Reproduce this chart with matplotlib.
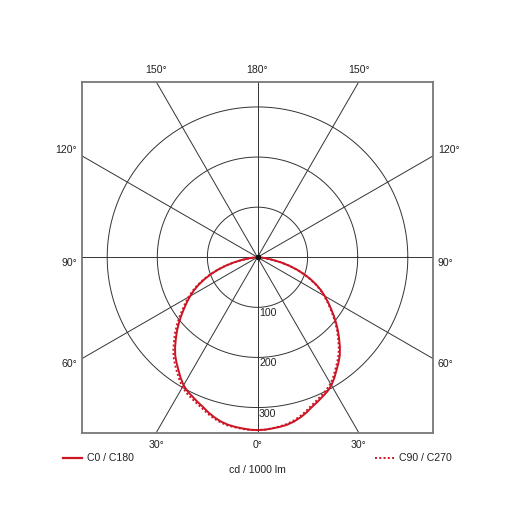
import numpy as np
import matplotlib
matplotlib.use("Agg")
import matplotlib.pyplot as plt

plt.rcParams['font.family'] = ['Liberation Sans', 'DejaVu Sans']

# gamma angles (deg) and intensities (cd / 1000 lm)
gamma = [0, 2.5, 5, 7.5, 10, 12.5, 15, 17.5, 20, 22.5, 25, 27.5, 30, 32.5, 35, 37.5, 40, 42.5, 45,
         47.5, 50, 52.5, 55, 57.5, 60, 62.5, 65, 67.5, 70, 72.5, 75, 77.5, 80, 82.5, 85, 87.5, 90]
c0_c180 = [345, 344.5, 343, 341.5, 339.5, 336, 331, 325, 318, 312.5, 307, 302, 295, 285.5, 275, 265.5,
           255.5, 243.5, 230.5, 218, 205, 192, 179, 167, 155, 143, 129.5, 114.5, 99, 83, 66, 49, 32,
           18, 8, 2, 0]
c90 = [345, 344.5, 342.5, 340.5, 338, 334, 328.5, 322, 315, 309, 303.5, 298, 291.5, 282, 271.5, 262,
       252, 240, 227.5, 215, 202.5, 189.5, 177, 165, 153, 141.5, 128, 113.5, 98, 82, 65.5, 48.5, 31.5,
       18, 8, 2, 0]
c270 = [345, 345, 344, 342.5, 341, 338, 333.5, 328, 321.5, 316, 311, 306, 299.5, 290, 280, 270.5,
        260.5, 248.5, 235.5, 223, 210, 196.5, 183, 171, 159, 146.5, 132.5, 117, 101, 84.5, 67, 50,
        33, 18.5, 8, 2, 0]

ring_values = [100, 200, 300]
spoke_angles = [0, 30, 60, 90, 120, 150, 180]
side_labels = [(120, "120°"), (90, "90°"), (60, "60°")]
top_labels = [(150, "150°"), (180, "180°")]
bottom_labels = [(30, "30°"), (0, "0°")]

red = "#cc1424"
grid = "#333333"
txt = "#222222"
fs = 7.6
lim = 350

fig = plt.figure(figsize=(5.15, 5.15), dpi=100)
ax = fig.add_axes([0.159, 0.16, 0.682, 0.681])
ax.set_xlim(-lim, lim)
ax.set_ylim(-lim, lim)
ax.set_aspect("equal")
ax.set_xticks([])
ax.set_yticks([])
for s in ax.spines.values():
    s.set_color("#777777")
    s.set_linewidth(1.3)

# rings
t = np.linspace(0, 2 * np.pi, 400)
for r in ring_values:
    ax.plot(r * np.cos(t), r * np.sin(t), color=grid, lw=0.7, zorder=1)
    ax.text(3, -r - 12, str(r), fontsize=fs, ha="left", va="center", color=txt)

# spokes
for a in spoke_angles:
    g = np.radians(a)
    sides = (1,) if a in (0, 180) else (1, -1)
    for sgn in sides:
        ax.plot([0, sgn * 1000 * np.sin(g)], [0, -1000 * np.cos(g)], color=grid, lw=0.7, zorder=1)
ax.plot(0, 0, "o", color="#111111", ms=3, zorder=4)

# curves
g = np.radians(gamma)
r0 = np.array(c0_c180)
ax.plot(np.concatenate([-(r0 * np.sin(g))[::-1], r0 * np.sin(g)]),
        np.concatenate([-(r0 * np.cos(g))[::-1], -r0 * np.cos(g)]),
        color=red, lw=1.4, zorder=3)
r90 = np.array(c90)
r270 = np.array(c270)
ax.plot(np.concatenate([-(r270 * np.sin(g))[::-1], r90 * np.sin(g)]),
        np.concatenate([-(r270 * np.cos(g))[::-1], -r90 * np.cos(g)]),
        color=red, lw=1.4, ls=(0, (1, 1.2)), zorder=3)

# angle labels outside the frame
for a, lab in side_labels:
    y = -lim * np.cos(np.radians(a)) / np.sin(np.radians(a))
    y = y + 12 * np.sign(y)
    ax.text(-lim - 10, y, lab, fontsize=fs, ha="right", va="center", color=txt, clip_on=False)
    ax.text(lim + 10, y, lab, fontsize=fs, ha="left", va="center", color=txt, clip_on=False)
for a, lab in top_labels:
    x = lim * np.tan(np.radians(180 - a))
    ax.text(x, lim + 24, lab, fontsize=fs, ha="center", va="center", color=txt, clip_on=False)
    if x:
        ax.text(-x, lim + 24, lab, fontsize=fs, ha="center", va="center", color=txt, clip_on=False)
for a, lab in bottom_labels:
    x = lim * np.tan(np.radians(a))
    ax.text(x, -lim - 24, lab, fontsize=fs, ha="center", va="center", color=txt, clip_on=False)
    if x:
        ax.text(-x, -lim - 24, lab, fontsize=fs, ha="center", va="center", color=txt, clip_on=False)

# legend and unit
ly = 1 - 457.7 / 515
fig.lines.append(plt.Line2D([63 / 515, 82 / 515], [ly, ly], color=red, lw=1.6, transform=fig.transFigure))
fig.text(87 / 515, ly, "C0 / C180", fontsize=fs, ha="left", va="center", color=txt)
fig.lines.append(plt.Line2D([375 / 515, 394 / 515], [ly, ly], color=red, lw=1.4,
                            ls=(0, (1, 1.2)), transform=fig.transFigure))
fig.text(399 / 515, ly, "C90 / C270", fontsize=fs, ha="left", va="center", color=txt)
fig.text(0.5, 1 - 470 / 515, "cd / 1000 lm", fontsize=fs, ha="center", va="center", color=txt)

fig.savefig("out.png", dpi=100, facecolor="white")
